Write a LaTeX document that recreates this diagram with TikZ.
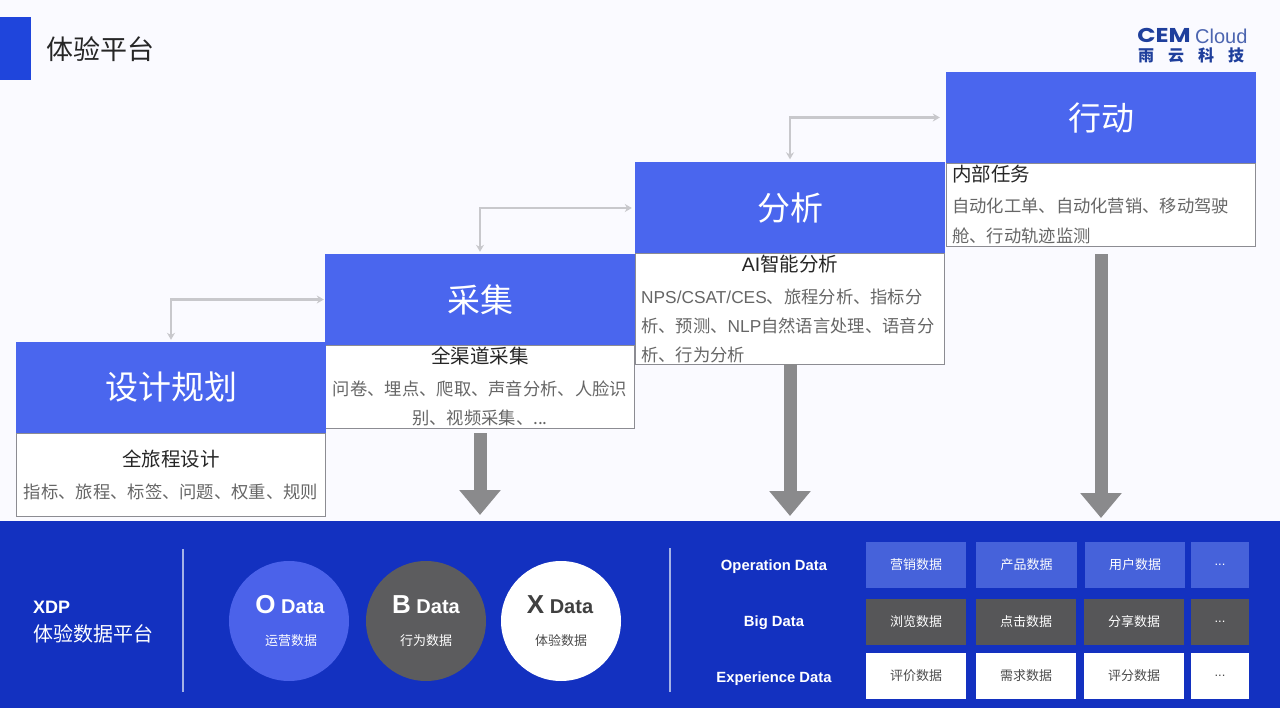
\documentclass[tikz,border=0pt]{standalone}
\usepackage{fontspec}
\setmainfont{Noto Sans CJK SC}
\newfontfamily\lat{Liberation Sans}
\newfontfamily\logofont{Poppins}
\usetikzlibrary{arrows.meta}
\definecolor{headblue}{HTML}{4A66EE}
\definecolor{bandblue}{HTML}{1331C0}
\definecolor{squareblue}{HTML}{1F45DC}
\definecolor{descgray}{HTML}{666666}
\definecolor{boxline}{HTML}{8C8C92}
\definecolor{linkgray}{HTML}{C8C8CC}
\definecolor{bigarrowgray}{HTML}{8A8A8C}
\definecolor{divline}{HTML}{A4B2E6}
\definecolor{cellblue}{HTML}{4662DA}
\definecolor{cellgray}{HTML}{565658}
\definecolor{circblue}{HTML}{4B62EA}
\definecolor{circgray}{HTML}{5C5C5E}
\definecolor{logoblue}{HTML}{1F3F9C}
\newcommand{\fs}[2]{\fontsize{#1pt}{#2pt}\selectfont}
\tikzset{
  x=1pt,y=-1pt,
  headbox/.style={fill=headblue,text=white,minimum width=310pt,minimum height=91pt,inner sep=0pt,font=\fs{33}{40}},
  bodybox/.style={fill=white,draw=boxline,line width=0.9pt,minimum width=309pt,inner sep=0pt},
  subtitle/.style={inner sep=0pt,text=black!85,font=\fs{19.5}{24}},
  desc/.style={inner sep=0pt,text=descgray,font=\fs{17.3}{29}},
  minilink/.style={draw=linkgray,line width=2.4pt,{Stealth[length=7pt,width=8pt]}-{Stealth[length=7pt,width=8pt]}},
  bigarrow/.style={draw=bigarrowgray,line width=13pt,-{Triangle[length=25pt,width=40pt]}},
  circ/.style={circle,minimum size=120pt,inner sep=0pt},
  cell/.style={inner sep=0pt,minimum height=46pt,font=\fs{13}{16},text=white},
  rowlabel/.style={inner sep=0pt,text=white,font=\lat\bfseries\fs{14.8}{18}},
  divider/.style={draw=divline,line width=1.2pt},
  bigdata/.style={inner sep=0pt,font=\lat\bfseries\fs{20}{24}},
  smalldata/.style={inner sep=0pt,font=\fs{13}{16}},
}
\begin{document}
\begin{tikzpicture}
\useasboundingbox (0,0) rectangle (1280,708);
\fill[white!98!blue] (0,0) rectangle (1280,708);
% top bar
\fill[squareblue] (0,17) rectangle (31,80);
\node[anchor=west,inner sep=0pt,font=\fs{27}{30},text=black!85] (title) at (46,49) {体验平台};
% logo
\node[anchor=west,inner sep=0pt,text=logoblue,font=\logofont\bfseries\fs{20}{20},xscale=1.2] (logoa) at (1137,35) {CEM};
\node[anchor=west,inner sep=0pt,text=logoblue!80,font=\lat\fs{20}{20}] (logob) at (1195,36) {Cloud};
\node[anchor=west,inner sep=0pt,text=logoblue,font=\bfseries\fs{16}{16}] (logoc) at (1138,55) {雨\hspace{14pt}云\hspace{14pt}科\hspace{14pt}技};
% bodies
\node[bodybox,minimum height=83pt] (b1) at (171,474.5) {};
\node[bodybox,minimum height=83pt] (b2) at (480,386.5) {};
\node[bodybox,minimum height=111pt] (b3) at (790,308.5) {};
\node[bodybox,minimum height=83pt] (b4) at (1101,204.5) {};
% headers
\node[headbox] (h1) at (171,387.5) {设计规划};
\node[headbox] (h2) at (480,299.5) {采集};
\node[headbox] (h3) at (790,208) {分析};
\node[headbox] (h4) at (1101,117.5) {行动};
% texts
\node[subtitle] (s1) at (171,459) {全旅程设计};
\node[desc] (d1) at (171,492) {指标、旅程、标签、问题、权重、规则};
\node[subtitle] (s2) at (480,356) {全渠道采集};
\node[desc,align=center] (d2) at (480,403.5) {问卷、埋点、爬取、声音分析、人脸识\\别、视频采集、...};
\node[subtitle] (s3) at (790,264) {{\lat AI}智能分析};
\node[desc,align=left,anchor=west] (d3) at (641,326) {{\lat NPS/CSAT/CES}、旅程分析、指标分\\析、预测、{\lat NLP}自然语言处理、语音分\\析、行为分析};
\node[subtitle,anchor=west] (s4) at (952,174) {内部任务};
\node[desc,align=left,anchor=west,font=\fs{17.3}{30}] (d4) at (952,221) {自动化工单、自动化营销、移动驾驶\\舱、行动轨迹监测};
% band
\fill[bandblue] (0,521) rectangle (1280,708);
\coordinate (e2) at (480,515);
\coordinate (e3) at (790,516);
\coordinate (e4) at (1101,518);
\draw[bigarrow,shorten <=5pt] (b2.south) -- (e2);
\draw[bigarrow] (b3.south) -- (e3);
\draw[bigarrow,shorten <=8pt] (b4.south) -- (e4);
% small links
\draw[minilink,shorten <=2pt,shorten >=1pt] (h1.north) |- (h2.west);
\draw[minilink,shorten <=2pt,shorten >=3pt] (h2.north) |- (h3.west);
\draw[minilink,shorten <=3pt,shorten >=6pt] (h3.north) |- (h4.west);
% band left
\node[anchor=west,inner sep=0pt,text=white,font=\lat\bfseries\fs{18}{22}] (xdp) at (33,607) {XDP};
\node[anchor=west,inner sep=0pt,text=white,font=\fs{20}{24}] (xdpb) at (33,634) {体验数据平台};
\coordinate (dv1a) at (183,549); \coordinate (dv1b) at (183,692);
\coordinate (dv2a) at (670,548); \coordinate (dv2b) at (670,692);
\draw[divider] (dv1a) -- (dv1b);
\draw[divider] (dv2a) -- (dv2b);
% circles
\node[circ,fill=circblue] (co) at (289,621) {};
\node[circ,fill=circgray] (cb) at (426,621) {};
\node[circ,fill=white] (cx) at (561,621) {};
\node[bigdata,text=white] (to) at (290,605) {{\fs{26}{28}O} Data};
\node[smalldata,text=white] (so) at (291,641) {运营数据};
\node[bigdata,text=white] (tb) at (426,605) {{\fs{26}{28}B} Data};
\node[smalldata,text=white] (sb) at (426,641) {行为数据};
\node[bigdata,text=black!75] (tx) at (560,605) {{\fs{26}{28}X} Data};
\node[smalldata,text=black!70] (sx) at (561,641) {体验数据};
% row labels
\node[rowlabel] (r1) at (774,567) {Operation Data};
\node[rowlabel] (r2) at (774,623) {Big Data};
\node[rowlabel] (r3) at (774,678.5) {Experience Data};
% cells
\node[cell,fill=cellblue,minimum width=100pt] (c11) at (916,565) {营销数据};
\node[cell,fill=cellblue,minimum width=101pt] (c12) at (1026.5,565) {产品数据};
\node[cell,fill=cellblue,minimum width=100pt] (c13) at (1135,565) {用户数据};
\node[cell,fill=cellblue,minimum width=58pt] (c14) at (1220,565) {\lat ...};
\node[cell,fill=cellgray,minimum width=100pt] (c21) at (916,621.5) {浏览数据};
\node[cell,fill=cellgray,minimum width=100pt] (c22) at (1026,621.5) {点击数据};
\node[cell,fill=cellgray,minimum width=100pt] (c23) at (1134,621.5) {分享数据};
\node[cell,fill=cellgray,minimum width=58pt] (c24) at (1220,621.5) {\lat ...};
\node[cell,fill=white,text=black!70,minimum width=100pt] (c31) at (916,676) {评价数据};
\node[cell,fill=white,text=black!70,minimum width=100pt] (c32) at (1026,676) {需求数据};
\node[cell,fill=white,text=black!70,minimum width=100pt] (c33) at (1134,676) {评分数据};
\node[cell,fill=white,text=black!70,minimum width=58pt] (c34) at (1220,676) {\lat ...};
\end{tikzpicture}
\end{document}
